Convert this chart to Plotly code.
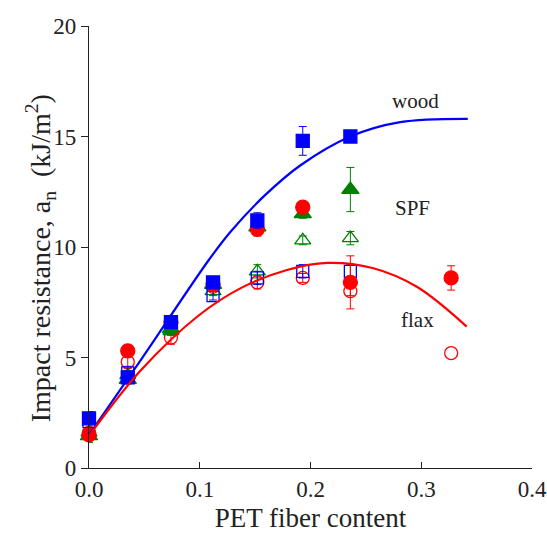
import plotly.graph_objects as go

# ---- data ----
x_pts = [0.0, 0.035, 0.074, 0.112, 0.152, 0.193, 0.236]
x_flax = [0.0, 0.035, 0.074, 0.112, 0.152, 0.193, 0.236, 0.327]

wood_filled = [2.25, 4.1, 6.6, 8.4, 11.2, 14.8, 15.0]
wood_filled_err = [0.3, 0.2, 0.2, 0.2, 0.35, 0.65, 0.2]
wood_open = [2.1, 4.3, 6.4, 7.8, 8.6, 8.9, 8.9]
wood_open_err = [0.3, 0.3, 0.3, 0.2, 0.3, 0.3, 0.3]

spf_filled = [1.45, 4.0, 6.3, 8.3, 10.9, 11.5, 12.6]
spf_filled_err = [0.3, 0.2, 0.2, 0.2, 0.2, 0.2, 1.0]
spf_open = [1.6, 4.2, 6.2, 8.0, 8.9, 10.3, 10.4]
spf_open_err = [0.2, 0.2, 0.2, 0.2, 0.3, 0.2, 0.3]

flax_filled = [1.5, 5.3, 6.6, 8.3, 10.8, 11.8, 8.4, 8.6]
flax_filled_err = [0.2, 0.2, 0.2, 0.2, 0.3, 0.2, 1.2, 0.55]
flax_open = [1.6, 4.8, 5.9, 8.2, 8.4, 8.6, 8.0, 5.2]
flax_open_err = [0.2, 0.3, 0.3, 0.2, 0.3, 0.2, 0.2]  # last point has no error bar

wood_curve_x = [0.0, 0.047, 0.108, 0.128, 0.158, 0.191, 0.236, 0.281, 0.342]
wood_curve_y = [1.5, 4.9, 9.4, 10.7, 12.3, 13.7, 15.0, 15.65, 15.8]
flax_curve_x = [0.0, 0.047, 0.099, 0.137, 0.178, 0.215, 0.256, 0.296, 0.341]
flax_curve_y = [1.45, 4.43, 6.9, 8.14, 8.95, 9.28, 9.05, 8.2, 6.4]

labels = ["wood", "SPF", "flax"]
label_x = [0.295, 0.292, 0.297]
label_y = [16.6, 11.76, 6.7]

x_title = "PET fiber content"
y_title = "Impact resistance, a<sub>n</sub>&nbsp;&nbsp;(kJ/m<sup>2</sup>)"

BLUE, RED, GREEN = "#0000ff", "#ff0000", "#008000"
FONT = "Liberation Serif"

fig = go.Figure()

def pts(x, y, err, color, symbol, filled, size):
    ey = None
    if err is not None:
        ey = dict(type="data", array=err, visible=True, color=color,
                  thickness=1, width=4)
    fig.add_trace(go.Scatter(
        x=x, y=y, mode="markers", error_y=ey,
        marker=dict(symbol=symbol if filled else symbol + "-open", size=size,
                    color=color, line=dict(color=color, width=1.3)),
        showlegend=False, cliponaxis=False))

n = len(flax_open_err)
pts(x_flax[:n], flax_open[:n], flax_open_err, RED, "circle", False, 13)
pts(x_flax[n:], flax_open[n:], None, RED, "circle", False, 13)
pts(x_pts, spf_open, spf_open_err, GREEN, "triangle-up", False, 14)
pts(x_pts, wood_open, wood_open_err, BLUE, "square", False, 12)
pts(x_pts, spf_filled, spf_filled_err, GREEN, "triangle-up", True, 15)
pts(x_flax, flax_filled, flax_filled_err, RED, "circle", True, 14)
pts(x_pts, wood_filled, wood_filled_err, BLUE, "square", True, 13)

fig.add_trace(go.Scatter(x=wood_curve_x, y=wood_curve_y, mode="lines",
                         line=dict(color=BLUE, width=2.2, shape="spline", smoothing=1.0),
                         showlegend=False))
fig.add_trace(go.Scatter(x=flax_curve_x, y=flax_curve_y, mode="lines",
                         line=dict(color=RED, width=2.2, shape="spline", smoothing=1.0),
                         showlegend=False))

for t, lx, ly in zip(labels, label_x, label_y):
    fig.add_annotation(x=lx, y=ly, text=t, showarrow=False,
                       font=dict(family=FONT, size=21, color="#222"))

# y-axis title as a rotated annotation for precise placement
fig.add_annotation(xref="paper", yref="paper", x=-0.11, y=0.475,
                   xanchor="center", yanchor="middle", textangle=-90,
                   text=y_title, showarrow=False,
                   font=dict(family=FONT, size=28, color="#222"))

fig.update_layout(
    width=547, height=542,
    margin=dict(l=89, r=15, t=26, b=74, autoexpand=False),
    paper_bgcolor="white", plot_bgcolor="white",
    font=dict(family=FONT, color="#222"),
)
fig.update_xaxes(range=[0, 0.4], tickvals=[0, 0.1, 0.2, 0.3, 0.4],
                 ticktext=["0.0", "0.1", "0.2", "0.3", "0.4"],
                 ticks="inside", ticklen=6, tickcolor="#222", tickwidth=1,
                 showline=True, linecolor="#222", linewidth=1.2,
                 showgrid=False, zeroline=False, automargin=False,
                 tickfont=dict(family=FONT, size=23),
                 title=dict(text=x_title, font=dict(family=FONT, size=27), standoff=7))
fig.update_yaxes(range=[0, 20], tickvals=[0, 5, 10, 15, 20],
                 ticks="outside", ticklen=7, tickcolor="#222", tickwidth=1,
                 showline=True, linecolor="#222", linewidth=1.2,
                 showgrid=False, zeroline=False, automargin=False,
                 tickfont=dict(family=FONT, size=23))

fig.write_html("out.html")
